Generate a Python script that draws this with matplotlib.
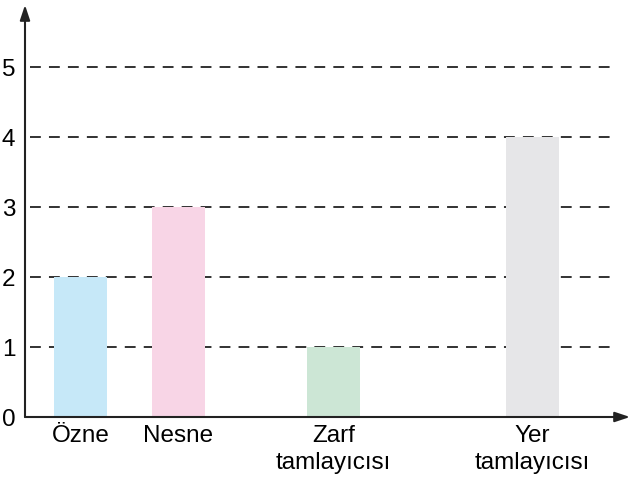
import matplotlib
matplotlib.use("Agg")
import matplotlib.pyplot as plt

categories = ["Özne", "Nesne", "Zarf\ntamlayıcısı", "Yer\ntamlayıcısı"]
values = [2, 3, 1, 4]
colors = ["#c6e8f8", "#f8d5e6", "#cce6d5", "#e6e6e8"]
yticks = [0, 1, 2, 3, 4, 5]

# layout (x in pixel-like units measured from the y axis)
positions = [55.5, 153.5, 308.5, 507]
bar_w = 53

plt.rcParams["font.family"] = ["Liberation Sans", "DejaVu Sans"]
fig = plt.figure(figsize=(6.3, 4.82), dpi=100)
ax = fig.add_axes([25 / 630, 65 / 482, 605 / 630, 412 / 482])
ax.set_xlim(0, 605)
ax.set_ylim(0, 412 / 70)

for s in ax.spines.values():
    s.set_visible(False)

ax.hlines(yticks[1:], 5, 585, colors="#222222", linestyles=(0, (6, 4.5)), lw=1.3, zorder=1)
ax.bar(positions, values, bar_w, color=colors, zorder=2)

ax.set_yticks(yticks)
ax.set_yticklabels([str(t) for t in yticks], fontsize=17.5)
ax.tick_params(axis="y", length=0, pad=7)
ax.set_xticks(positions)
ax.set_xticklabels(categories, fontsize=17.5, linespacing=1.3)
ax.tick_params(axis="x", length=0, pad=6)

arrow = dict(arrowstyle="-|>,head_length=0.9,head_width=0.3", color="#222222", lw=1.5,
             shrinkA=0, shrinkB=0)
ax.annotate("", xy=(0, 1), xytext=(0, 0), xycoords="axes fraction", arrowprops=arrow)
ax.annotate("", xy=(1, 0), xytext=(0, 0), xycoords="axes fraction", arrowprops=arrow)

fig.savefig("out.png", dpi=100)
